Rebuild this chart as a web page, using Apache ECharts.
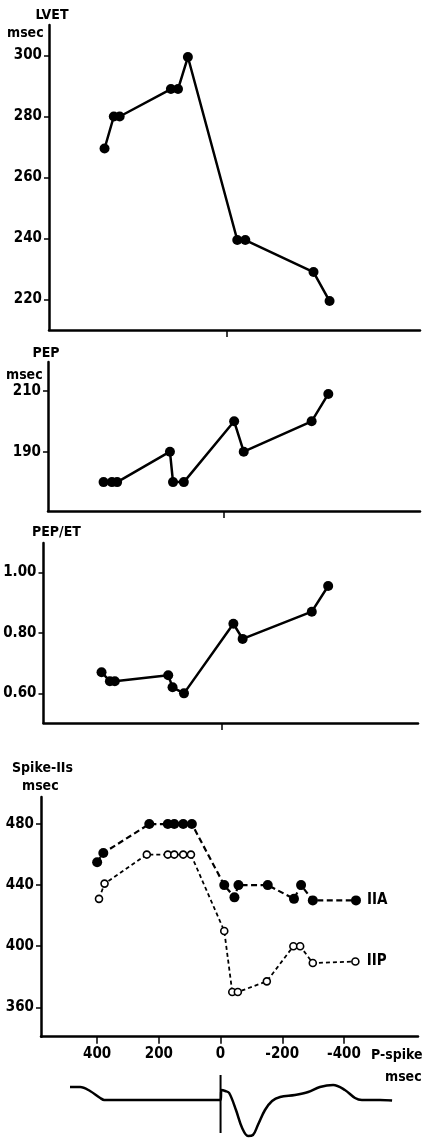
<!DOCTYPE html>
<html>
<head>
<meta charset="utf-8">
<script src="https://cdn.jsdelivr.net/npm/echarts@6/dist/echarts.min.js"></script>
<style>
  html, body { margin: 0; padding: 0; background: #fff; }
  #chart { width: 425px; height: 1138px; }
</style>
</head>
<body>
<div id="chart"></div>
<script>
// P-spike interval (msec, positive = spike before P) for each panel
const lvetTime = [397, 367, 348, 182, 159, 127, -33, -59, -280, -332];
const lvetValues = [269.5, 280, 280, 289, 289, 299.5, 239.5, 239.5, 229, 219.5];

const pepTime = [390, 363, 346, 175, 165, 130, -33, -64, -284, -338];
const pepValues = [180, 180, 180, 190, 180, 180, 200, 190, 200, 209];

const ratioTime = [389, 362, 346, 173, 159, 122, -38, -68, -292, -345];
const ratioValues = [0.67, 0.64, 0.64, 0.66, 0.62, 0.60, 0.83, 0.78, 0.87, 0.955];

const iiaTime = [400, 380, 231, 171, 150, 121, 93, -12, -45, -58, -153, -238, -261, -299, -439];
const iiaValues = [455, 461, 480, 480, 480, 480, 480, 440, 432, 440, 440, 431, 440, 430, 430];
const iipTime = [394, 376, 239, 171, 150, 121, 96, -12, -38, -56, -150, -236, -258, -299, -437];
const iipValues = [431, 441, 460, 460, 460, 460, 460, 410, 370, 370, 377, 400, 400, 389, 390];

// Tick labels
const lvetTicks = [220, 240, 260, 280, 300];
const pepTicks = [190, 210];
const ratioTicks = [0.60, 0.80, 1.00];
const spikeTicks = [360, 400, 440, 480];
const timeTicks = [400, 200, 0, -200, -400];

// Electrocardiogram trace under the time axis (arbitrary amplitude units)
const ecgTime = [488, 455, 423, 390, 377, 0, -3, -15, -28, -50, -70, -89, -105, -121, -144, -167, -193, -241, -284, -322, -365, -403, -436, -458, -517, -556];
const ecgAmp = [1.3, 1.3, 0.9, 0.2, 0, 0, 1.0, 0.9, 0.7, -1.0, -2.8, -3.6, -3.5, -2.5, -1.0, -0.1, 0.3, 0.5, 0.8, 1.3, 1.5, 1.0, 0.2, 0, 0, -0.05];
const pacerTime = [0, 0];
const pacerAmp = [2.5, -3.3];

const FONT = "'DejaVu Sans Condensed', 'DejaVu Sans', sans-serif";
const zip = (xs, ys) => xs.map((x, i) => [x, ys[i]]);

// put a text label beside the last point of a series
function withEndLabel(points, text, distance) {
  const out = points.slice();
  const last = out.length - 1;
  out[last] = {
    value: out[last],
    label: { show: true, position: 'right', distance, formatter: text, color: '#000',
             fontFamily: FONT, fontSize: 15, fontWeight: 'bold' }
  };
  return out;
}

const grids = [
  { left: 49, top: 25, width: 371, height: 305 },
  { left: 48, top: 362, width: 372, height: 149 },
  { left: 43.5, top: 543, width: 374.5, height: 180 },
  { left: 41, top: 797, width: 377, height: 239.7 },
  { left: 41, top: 1070, width: 377, height: 68 }
].map(g => Object.assign({ containLabel: false, outerBoundsMode: 'none' }, g));

function timeAxis(gridIndex, min, max, ticks, labels, show) {
  return {
    type: 'value', gridIndex, min, max, inverse: true, show: show !== false,
    axisLine: { show: true, onZero: false, lineStyle: { color: '#000', width: 2.5 } },
    axisTick: { show: true, inside: false, length: 7, customValues: ticks, lineStyle: { color: '#000', width: 1.5 } },
    axisLabel: { show: labels, customValues: ticks, margin: 10, color: '#000', fontFamily: FONT, fontSize: 15, fontWeight: 'bold' },
    splitLine: { show: false }
  };
}

function valueAxis(gridIndex, min, max, ticks, fmt, show) {
  return {
    type: 'value', gridIndex, min, max, show: show !== false,
    axisLine: { show: true, onZero: false, lineStyle: { color: '#000', width: 2.5 } },
    axisTick: { show: true, inside: false, length: 5, customValues: ticks, lineStyle: { color: '#000', width: 1.5 } },
    axisLabel: { show: true, customValues: ticks, margin: 7, color: '#000', fontFamily: FONT, fontSize: 15, fontWeight: 'bold', formatter: fmt },
    splitLine: { show: false }
  };
}

function solidSeries(idx, data) {
  return {
    type: 'line', xAxisIndex: idx, yAxisIndex: idx, data,
    symbol: 'circle', symbolSize: 10,
    itemStyle: { color: '#000' },
    lineStyle: { color: '#000', width: 2.5 },
    silent: true
  };
}

const title = (text, x, y, align) => ({
  type: 'text', x, y,
  style: { text, fill: '#000', fontFamily: FONT, fontSize: 14, fontWeight: 'bold', textAlign: align || 'left', textVerticalAlign: 'middle' }
});

const option = {
  backgroundColor: '#fff',
  animation: false,
  grid: grids,
  xAxis: [
    timeAxis(0, -625, 577, [0], false),
    timeAxis(1, -635, 570, [0], false),
    timeAxis(2, -636, 577, [0], false),
    timeAxis(3, -640, 582, timeTicks, true),
    timeAxis(4, -640, 582, [], false, false)
  ],
  yAxis: [
    valueAxis(0, 210, 310, lvetTicks, v => String(v)),
    valueAxis(1, 170.5, 219.5, pepTicks, v => String(v)),
    valueAxis(2, 0.502, 1.097, ratioTicks, v => v.toFixed(2)),
    valueAxis(3, 340.75, 497.7, spikeTicks, v => String(v)),
    valueAxis(4, -3.8, 3.0, [], v => '', false)
  ],
  series: [
    solidSeries(0, zip(lvetTime, lvetValues)),
    solidSeries(1, zip(pepTime, pepValues)),
    solidSeries(2, zip(ratioTime, ratioValues)),
    {
      name: 'IIA', type: 'line', xAxisIndex: 3, yAxisIndex: 3,
      data: withEndLabel(zip(iiaTime, iiaValues), 'IIA', 6),
      symbol: 'circle', symbolSize: 10,
      itemStyle: { color: '#000' },
      lineStyle: { color: '#000', width: 2.2, type: [6, 3.5] },
      silent: true
    },
    {
      name: 'IIP', type: 'line', xAxisIndex: 3, yAxisIndex: 3,
      data: withEndLabel(zip(iipTime, iipValues), 'IIP', 7),
      symbol: 'circle', symbolSize: 7,
      itemStyle: { color: '#fff', borderColor: '#000', borderWidth: 1.6 },
      lineStyle: { color: '#000', width: 1.8, type: [4, 3] },
      silent: true
    },
    {
      type: 'line', xAxisIndex: 4, yAxisIndex: 4,
      data: zip(ecgTime, ecgAmp), smooth: 0.35, showSymbol: false, symbol: 'none',
      lineStyle: { color: '#000', width: 2.5 }, silent: true
    },
    {
      type: 'line', xAxisIndex: 4, yAxisIndex: 4,
      data: zip(pacerTime, pacerAmp), showSymbol: false, symbol: 'none',
      lineStyle: { color: '#000', width: 2 }, silent: true
    }
  ],
  graphic: [
    title('LVET', 52, 15, 'center'),
    title('msec', 7, 33),
    title('PEP', 46, 353, 'center'),
    title('msec', 6, 375),
    title('PEP/ET', 32, 532),
    title('Spike-IIs', 12, 768),
    title('msec', 22, 786),
    title('P-spike', 371, 1055),
    title('msec', 385, 1077)
  ]
};

const chart = echarts.init(document.getElementById('chart'), null, { renderer: 'canvas' });
chart.setOption(option);
</script>
</body>
</html>
